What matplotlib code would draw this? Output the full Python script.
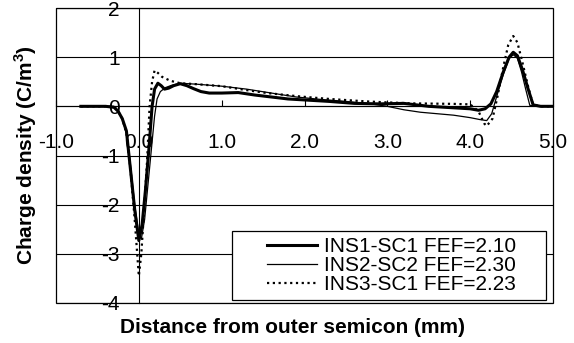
import matplotlib
matplotlib.use('Agg')
import matplotlib.pyplot as plt
from matplotlib.lines import Line2D
from matplotlib.patches import Rectangle
from matplotlib.legend_handler import HandlerLine2D

plt.rcParams['font.family'] = 'Liberation Sans'
plt.rcParams['font.size'] = 15
plt.rcParams['mathtext.fontset'] = 'custom'
plt.rcParams['mathtext.rm'] = 'Liberation Sans'
plt.rcParams['mathtext.bf'] = 'Liberation Sans:bold'

# INS1-SC1 (thick)
x1 = [-0.7, -0.4, -0.3, -0.25, -0.2, -0.15, -0.1, -0.05, 0.0, 0.04, 0.08, 0.12, 0.16, 0.19,
      0.23, 0.27, 0.31, 0.36, 0.42, 0.5, 0.58, 0.66, 0.75, 0.85, 1.0, 1.2, 1.4, 1.6, 1.8, 2.0,
      2.3, 2.6, 2.9, 3.2, 3.5, 3.8, 4.0, 4.1, 4.18, 4.25, 4.32, 4.4, 4.47, 4.52, 4.57, 4.63,
      4.7, 4.76, 4.85, 5.0]
y1 = [0.0, 0.0, -0.02, -0.1, -0.25, -0.5, -1.3, -2.1, -2.73, -2.4, -1.7, -0.9, 0.0, 0.35,
      0.47, 0.42, 0.35, 0.37, 0.42, 0.46, 0.42, 0.36, 0.3, 0.27, 0.27, 0.28, 0.23, 0.19, 0.15, 0.13,
      0.1, 0.06, 0.05, 0.06, 0.0, -0.03, -0.05, -0.08, -0.05, 0.05, 0.3, 0.7, 1.0, 1.1, 1.03, 0.75,
      0.35, 0.03, 0.0, 0.0]

# INS2-SC2 (thin)
x2 = [-0.7, -0.3, -0.25, -0.2, -0.15, -0.1, -0.05, 0.0, 0.03, 0.07, 0.11, 0.15, 0.19, 0.22,
      0.26, 0.32, 0.4, 0.5, 0.7, 1.0, 1.3, 1.6, 1.9, 2.2, 2.5, 2.8, 3.0, 3.2, 3.4, 3.6, 3.8,
      4.0, 4.12, 4.2, 4.26, 4.32, 4.4, 4.47, 4.52, 4.57, 4.62, 4.67, 4.72, 4.8, 5.0]
y2 = [0.0, 0.0, -0.1, -0.25, -0.55, -1.2, -2.0, -2.6, -2.7, -2.3, -1.6, -0.9, -0.2, 0.15,
      0.3, 0.38, 0.43, 0.47, 0.45, 0.41, 0.35, 0.27, 0.19, 0.14, 0.1, 0.05, 0.0, -0.07, -0.12, -0.15, -0.18,
      -0.23, -0.27, -0.29, -0.15, 0.2, 0.65, 0.97, 1.05, 0.98, 0.7, 0.35, 0.02, 0.0, 0.0]

# INS3-SC1 (dotted)
x3 = [-0.7, -0.3, -0.25, -0.2, -0.15, -0.1, -0.05, 0.0, 0.03, 0.06, 0.1, 0.13, 0.16, 0.19,
      0.23, 0.28, 0.38, 0.5, 0.7, 1.0, 1.3, 1.55, 1.95, 2.3, 2.75, 3.0, 3.3, 3.8, 4.0, 4.1,
      4.17, 4.2, 4.27, 4.33, 4.4, 4.46, 4.52, 4.57, 4.63, 4.7, 4.76, 4.85, 5.0]
y3 = [0.0, 0.0, -0.1, -0.25, -0.55, -1.3, -2.3, -3.45, -3.0, -2.2, -1.1, 0.0, 0.5, 0.73,
      0.68, 0.6, 0.52, 0.47, 0.45, 0.41, 0.33, 0.27, 0.2, 0.15, 0.1, 0.08, 0.06, 0.05, 0.04, -0.1,
      -0.35, -0.4, -0.25, 0.2, 0.8, 1.25, 1.43, 1.3, 0.9, 0.4, 0.03, 0.0, 0.0]

labels = ['INS1-SC1 FEF=2.10', 'INS2-SC2 FEF=2.30', 'INS3-SC1 FEF=2.23']
xticks = [-1, 0, 1, 2, 3, 4, 5]
yticks = [-4, -3, -2, -1, 0, 1, 2]

fig = plt.figure(figsize=(5.74, 3.43), dpi=100)
ax = fig.add_axes([56 / 574, 40 / 343, 497 / 574, 295 / 343])

l1, = ax.plot(x1, y1, color='black', lw=2.2, label=labels[0], zorder=4)
l2, = ax.plot(x2, y2, color='black', lw=0.9, label=labels[1], zorder=3)
l3, = ax.plot(x3, y3, color='black', lw=1.6, linestyle=(0, (1, 1.6)), label=labels[2], zorder=5)

ax.set_xlim(-1, 5)
ax.set_ylim(-4, 2)
ax.set_xticks(xticks)
ax.set_xticklabels([f'{v:.1f}' for v in xticks])
ax.set_yticks(yticks)
ax.set_yticklabels([str(v) for v in yticks])

# axes cross at zero, box drawn round the plot area
ax.spines['left'].set_position(('data', 0))
ax.spines['bottom'].set_position(('data', 0))
ax.spines['top'].set_visible(False)
ax.spines['right'].set_visible(False)
for s in ['left', 'bottom']:
    ax.spines[s].set_linewidth(0.8)
ax.add_patch(Rectangle((0, 0), 1, 1, transform=ax.transAxes, fill=False,
                       edgecolor='black', lw=0.9, clip_on=False, zorder=6))

ax.yaxis.grid(True, color='black', lw=0.8)
ax.set_axisbelow(True)
ax.tick_params(axis='x', direction='in', length=4.3, width=0.8, pad=19.5)
ax.tick_params(axis='y', length=0, pad=13.7)

ax.set_xlabel('Distance from outer semicon (mm)', fontweight='bold')
ax.set_ylabel(r'Charge density (C/m$^{\mathbf{3}}$)', fontweight='bold')
ax.xaxis.set_label_coords(0.475, -0.05)
ax.yaxis.set_label_coords(-0.035, 0.5)

leg = ax.legend(handles=[l1, l2, l3], loc='lower left',
                bbox_to_anchor=(0.354, 0.010, 0.632, 0.24), mode='expand',
                borderaxespad=0, fancybox=False, framealpha=1, edgecolor='black',
                borderpad=0.3, labelspacing=0.0, handlelength=3.8, handletextpad=0.3,
                handler_map={Line2D: HandlerLine2D(xpad=1.4)})
leg.get_frame().set_linewidth(0.9)
leg.set_zorder(7)

fig.savefig('out.png', dpi=100)
